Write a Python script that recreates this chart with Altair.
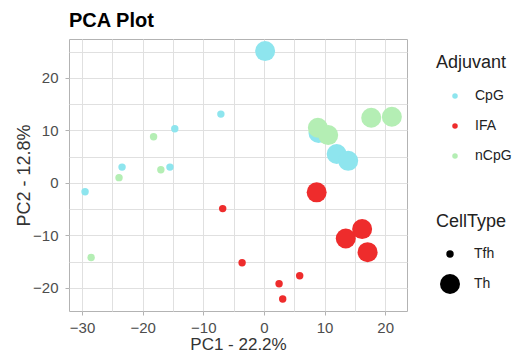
import altair as alt
import pandas as pd

# Data
pc1 = [0.2, 9.0, 12.0, 13.9,
       8.9, 10.6, 17.7, 21.1,
       8.7, 13.5, 16.2, 17.1,
       -29.5, -23.4, -14.7, -15.5, -7.1,
       -18.2, -17.0, -23.9, -28.5,
       -6.8, -3.6, 2.5, 5.9, 3.1]
pc2 = [25.1, 9.5, 5.5, 4.2,
       10.5, 9.1, 12.4, 12.6,
       -1.8, -10.6, -8.8, -13.2,
       -1.7, 3.0, 10.3, 3.0, 13.1,
       8.8, 2.5, 1.0, -14.2,
       -4.9, -15.2, -19.2, -17.7, -22.1]
adjuvant = ["CpG"] * 4 + ["nCpG"] * 4 + ["IFA"] * 4 + \
           ["CpG"] * 5 + ["nCpG"] * 4 + ["IFA"] * 5
celltype = ["Th"] * 12 + ["Tfh"] * 14

adj_levels = ["CpG", "IFA", "nCpG"]
adj_colors = ["#8EE5EE", "#EE2C2C", "#B4EEB4"]
cell_levels = ["Tfh", "Th"]

x_ticks = [-30, -25, -20, -15, -10, -5, 0, 5, 10, 15, 20]
y_ticks = [-20, -15, -10, -5, 0, 5, 10, 15, 20, 25]

df = pd.DataFrame({"PC1": pc1, "PC2": pc2, "Adjuvant": adjuvant, "CellType": celltype})
df["draw"] = range(len(df))

font = "Arial, Liberation Sans"
tick_color = {"condition": {"test": "datum.value % 10 === 0", "value": "#B3B3B3"}, "value": "transparent"}

chart = alt.Chart(df).mark_circle(opacity=1).encode(
    x=alt.X("PC1:Q", title="PC1 - 22.2%",
            scale=alt.Scale(domain=[-32.15, 23.6], nice=False, zero=False),
            axis=alt.Axis(values=x_ticks,
                          labelExpr="datum.value % 10 === 0 ? datum.label : ''",
                          tickColor=tick_color, tickSize=4, labelPadding=5,
                          domain=False, titlePadding=1, titleFontSize=17)),
    y=alt.Y("PC2:Q", title="PC2 - 12.8%",
            scale=alt.Scale(domain=[-24.4, 27.4], nice=False, zero=False),
            axis=alt.Axis(values=y_ticks,
                          labelExpr="datum.value % 10 === 0 ? datum.label : ''",
                          tickColor=tick_color, tickSize=4, labelPadding=7,
                          domain=False, titlePadding=-1)),
    color=alt.Color("Adjuvant:N",
                    scale=alt.Scale(domain=adj_levels, range=adj_colors),
                    legend=alt.Legend(orient="none", legendX=367, legendY=15,
                                      symbolType="circle", symbolSize=30,
                                      symbolOffset=12, rowPadding=16,
                                      labelOffset=13, titlePadding=17)),
    size=alt.Size("CellType:N",
                  scale=alt.Scale(domain=cell_levels, range=[55, 400]),
                  legend=alt.Legend(orient="none", legendX=367, legendY=174,
                                    symbolType="circle", symbolFillColor="black",
                                    symbolStrokeWidth=0, symbolOffset=4,
                                    rowPadding=13, labelOffset=14, titlePadding=16)),
    order=alt.Order("draw:Q", sort="ascending"),
).properties(
    width=338, height=272,
    title=alt.TitleParams("PCA Plot", anchor="start", fontSize=20, fontWeight="bold",
                          font=font, color="black", offset=8),
    autosize=alt.AutoSizeParams(type="none"),
    padding={"left": 61, "top": 31, "right": 107, "bottom": 42},
).configure_view(
    stroke="#B3B3B3", strokeWidth=1
).configure_axis(
    gridColor="#E0E0E0", gridWidth=1,
    labelFont=font, labelFontSize=15, labelColor="#4D4D4D",
    titleFont=font, titleFontSize=18, titleFontWeight="normal", titleColor="#333333",
).configure_legend(
    titleFont=font, titleFontSize=18, titleFontWeight="normal", titleColor="#222222",
    labelFont=font, labelFontSize=14, labelColor="#222222",
).configure_title(
    frame="group"
)

chart.save("out.html", embed_options={"renderer": "svg", "actions": False})
